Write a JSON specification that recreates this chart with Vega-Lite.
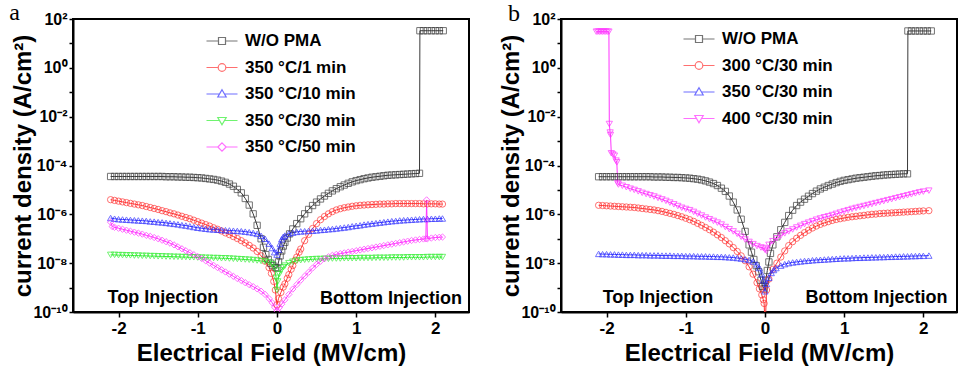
{
"$schema": "https://vega.github.io/schema/vega-lite/v6.json",
"background": "white",
"padding": {"left": 8, "top": -1, "right": 0, "bottom": 0},
"spacing": 27,
"config": {
  "font": "Liberation Sans",
  "view": {"stroke": "black", "strokeWidth": 2},
  "axis": {"grid": false, "domainColor": "black", "domainWidth": 2, "tickColor": "black", "tickWidth": 1.5,
    "labelFont": "Liberation Sans", "labelFontWeight": "bold", "labelColor": "black",
    "titleFont": "Liberation Sans", "titleFontWeight": "bold", "titleFontSize": 24, "titleColor": "black"}
},
"resolve": {"scale": {"x": "independent", "y": "independent", "color": "independent", "shape": "independent"}, "legend": {"color": "independent", "shape": "independent"}},
"datasets": {
"a": [
{"s":"W/O PMA","x":-2.10,"y":-4.45},{"s":"W/O PMA","x":-2.05,"y":-4.45},{"s":"W/O PMA","x":-2.00,"y":-4.45},{"s":"W/O PMA","x":-1.95,"y":-4.45},{"s":"W/O PMA","x":-1.90,"y":-4.45},{"s":"W/O PMA","x":-1.85,"y":-4.45},{"s":"W/O PMA","x":-1.80,"y":-4.45},{"s":"W/O PMA","x":-1.75,"y":-4.45},{"s":"W/O PMA","x":-1.70,"y":-4.45},{"s":"W/O PMA","x":-1.65,"y":-4.45},{"s":"W/O PMA","x":-1.60,"y":-4.45},{"s":"W/O PMA","x":-1.55,"y":-4.45},{"s":"W/O PMA","x":-1.50,"y":-4.45},{"s":"W/O PMA","x":-1.45,"y":-4.45},{"s":"W/O PMA","x":-1.40,"y":-4.46},{"s":"W/O PMA","x":-1.35,"y":-4.46},{"s":"W/O PMA","x":-1.30,"y":-4.46},{"s":"W/O PMA","x":-1.25,"y":-4.47},{"s":"W/O PMA","x":-1.20,"y":-4.47},{"s":"W/O PMA","x":-1.15,"y":-4.48},{"s":"W/O PMA","x":-1.10,"y":-4.48},{"s":"W/O PMA","x":-1.05,"y":-4.49},{"s":"W/O PMA","x":-1.00,"y":-4.50},{"s":"W/O PMA","x":-0.95,"y":-4.51},{"s":"W/O PMA","x":-0.90,"y":-4.53},{"s":"W/O PMA","x":-0.85,"y":-4.55},{"s":"W/O PMA","x":-0.80,"y":-4.57},{"s":"W/O PMA","x":-0.75,"y":-4.60},{"s":"W/O PMA","x":-0.70,"y":-4.64},{"s":"W/O PMA","x":-0.65,"y":-4.69},{"s":"W/O PMA","x":-0.60,"y":-4.76},{"s":"W/O PMA","x":-0.55,"y":-4.85},{"s":"W/O PMA","x":-0.50,"y":-4.98},{"s":"W/O PMA","x":-0.45,"y":-5.12},{"s":"W/O PMA","x":-0.40,"y":-5.35},{"s":"W/O PMA","x":-0.35,"y":-5.62},{"s":"W/O PMA","x":-0.30,"y":-5.98},{"s":"W/O PMA","x":-0.25,"y":-6.45},{"s":"W/O PMA","x":-0.20,"y":-7.00},{"s":"W/O PMA","x":-0.17,"y":-7.35},{"s":"W/O PMA","x":-0.14,"y":-7.65},{"s":"W/O PMA","x":-0.11,"y":-7.85},{"s":"W/O PMA","x":-0.08,"y":-8.00},{"s":"W/O PMA","x":-0.05,"y":-8.10},{"s":"W/O PMA","x":-0.02,"y":-8.18},{"s":"W/O PMA","x":0.00,"y":-8.20},{"s":"W/O PMA","x":0.02,"y":-7.95},{"s":"W/O PMA","x":0.04,"y":-7.70},{"s":"W/O PMA","x":0.06,"y":-7.50},{"s":"W/O PMA","x":0.08,"y":-7.30},{"s":"W/O PMA","x":0.10,"y":-7.15},{"s":"W/O PMA","x":0.13,"y":-6.97},{"s":"W/O PMA","x":0.16,"y":-6.80},{"s":"W/O PMA","x":0.20,"y":-6.60},{"s":"W/O PMA","x":0.25,"y":-6.38},{"s":"W/O PMA","x":0.30,"y":-6.18},{"s":"W/O PMA","x":0.35,"y":-5.98},{"s":"W/O PMA","x":0.40,"y":-5.80},{"s":"W/O PMA","x":0.45,"y":-5.64},{"s":"W/O PMA","x":0.50,"y":-5.50},{"s":"W/O PMA","x":0.55,"y":-5.37},{"s":"W/O PMA","x":0.60,"y":-5.25},{"s":"W/O PMA","x":0.65,"y":-5.14},{"s":"W/O PMA","x":0.70,"y":-5.04},{"s":"W/O PMA","x":0.75,"y":-4.95},{"s":"W/O PMA","x":0.80,"y":-4.87},{"s":"W/O PMA","x":0.85,"y":-4.80},{"s":"W/O PMA","x":0.90,"y":-4.73},{"s":"W/O PMA","x":0.95,"y":-4.67},{"s":"W/O PMA","x":1.00,"y":-4.62},{"s":"W/O PMA","x":1.05,"y":-4.58},{"s":"W/O PMA","x":1.10,"y":-4.54},{"s":"W/O PMA","x":1.15,"y":-4.51},{"s":"W/O PMA","x":1.20,"y":-4.48},{"s":"W/O PMA","x":1.25,"y":-4.46},{"s":"W/O PMA","x":1.30,"y":-4.44},{"s":"W/O PMA","x":1.35,"y":-4.42},{"s":"W/O PMA","x":1.40,"y":-4.40},{"s":"W/O PMA","x":1.45,"y":-4.39},{"s":"W/O PMA","x":1.50,"y":-4.38},{"s":"W/O PMA","x":1.55,"y":-4.37},{"s":"W/O PMA","x":1.60,"y":-4.36},{"s":"W/O PMA","x":1.65,"y":-4.35},{"s":"W/O PMA","x":1.70,"y":-4.34},{"s":"W/O PMA","x":1.75,"y":-4.33},{"s":"W/O PMA","x":1.80,"y":-4.32},{"s":"W/O PMA","x":1.805,"y":1.52},{"s":"W/O PMA","x":1.85,"y":1.52},{"s":"W/O PMA","x":1.90,"y":1.52},{"s":"W/O PMA","x":1.95,"y":1.52},{"s":"W/O PMA","x":2.00,"y":1.52},{"s":"W/O PMA","x":2.05,"y":1.52},{"s":"W/O PMA","x":2.10,"y":1.52},
{"s":"350 °C/1 min","x":-2.10,"y":-5.40},{"s":"350 °C/1 min","x":-2.05,"y":-5.43},{"s":"350 °C/1 min","x":-2.00,"y":-5.46},{"s":"350 °C/1 min","x":-1.95,"y":-5.49},{"s":"350 °C/1 min","x":-1.90,"y":-5.52},{"s":"350 °C/1 min","x":-1.85,"y":-5.55},{"s":"350 °C/1 min","x":-1.80,"y":-5.58},{"s":"350 °C/1 min","x":-1.75,"y":-5.61},{"s":"350 °C/1 min","x":-1.70,"y":-5.64},{"s":"350 °C/1 min","x":-1.65,"y":-5.68},{"s":"350 °C/1 min","x":-1.60,"y":-5.72},{"s":"350 °C/1 min","x":-1.55,"y":-5.76},{"s":"350 °C/1 min","x":-1.50,"y":-5.80},{"s":"350 °C/1 min","x":-1.45,"y":-5.85},{"s":"350 °C/1 min","x":-1.40,"y":-5.89},{"s":"350 °C/1 min","x":-1.35,"y":-5.94},{"s":"350 °C/1 min","x":-1.30,"y":-5.98},{"s":"350 °C/1 min","x":-1.25,"y":-6.03},{"s":"350 °C/1 min","x":-1.20,"y":-6.08},{"s":"350 °C/1 min","x":-1.15,"y":-6.13},{"s":"350 °C/1 min","x":-1.10,"y":-6.18},{"s":"350 °C/1 min","x":-1.05,"y":-6.24},{"s":"350 °C/1 min","x":-1.00,"y":-6.30},{"s":"350 °C/1 min","x":-0.95,"y":-6.36},{"s":"350 °C/1 min","x":-0.90,"y":-6.42},{"s":"350 °C/1 min","x":-0.85,"y":-6.48},{"s":"350 °C/1 min","x":-0.80,"y":-6.55},{"s":"350 °C/1 min","x":-0.75,"y":-6.61},{"s":"350 °C/1 min","x":-0.70,"y":-6.68},{"s":"350 °C/1 min","x":-0.65,"y":-6.76},{"s":"350 °C/1 min","x":-0.60,"y":-6.83},{"s":"350 °C/1 min","x":-0.55,"y":-6.91},{"s":"350 °C/1 min","x":-0.50,"y":-6.99},{"s":"350 °C/1 min","x":-0.45,"y":-7.08},{"s":"350 °C/1 min","x":-0.40,"y":-7.17},{"s":"350 °C/1 min","x":-0.35,"y":-7.27},{"s":"350 °C/1 min","x":-0.30,"y":-7.38},{"s":"350 °C/1 min","x":-0.25,"y":-7.52},{"s":"350 °C/1 min","x":-0.20,"y":-7.70},{"s":"350 °C/1 min","x":-0.15,"y":-7.92},{"s":"350 °C/1 min","x":-0.10,"y":-8.18},{"s":"350 °C/1 min","x":-0.07,"y":-8.42},{"s":"350 °C/1 min","x":-0.04,"y":-8.75},{"s":"350 °C/1 min","x":-0.02,"y":-9.10},{"s":"350 °C/1 min","x":0.00,"y":-9.70},{"s":"350 °C/1 min","x":0.02,"y":-9.45},{"s":"350 °C/1 min","x":0.05,"y":-9.20},{"s":"350 °C/1 min","x":0.08,"y":-8.98},{"s":"350 °C/1 min","x":0.10,"y":-8.85},{"s":"350 °C/1 min","x":0.13,"y":-8.62},{"s":"350 °C/1 min","x":0.15,"y":-8.47},{"s":"350 °C/1 min","x":0.18,"y":-8.25},{"s":"350 °C/1 min","x":0.20,"y":-8.10},{"s":"350 °C/1 min","x":0.23,"y":-7.88},{"s":"350 °C/1 min","x":0.25,"y":-7.75},{"s":"350 °C/1 min","x":0.28,"y":-7.55},{"s":"350 °C/1 min","x":0.30,"y":-7.42},{"s":"350 °C/1 min","x":0.35,"y":-7.08},{"s":"350 °C/1 min","x":0.40,"y":-6.82},{"s":"350 °C/1 min","x":0.45,"y":-6.58},{"s":"350 °C/1 min","x":0.50,"y":-6.38},{"s":"350 °C/1 min","x":0.55,"y":-6.22},{"s":"350 °C/1 min","x":0.60,"y":-6.09},{"s":"350 °C/1 min","x":0.65,"y":-5.98},{"s":"350 °C/1 min","x":0.70,"y":-5.89},{"s":"350 °C/1 min","x":0.75,"y":-5.82},{"s":"350 °C/1 min","x":0.80,"y":-5.77},{"s":"350 °C/1 min","x":0.85,"y":-5.73},{"s":"350 °C/1 min","x":0.90,"y":-5.70},{"s":"350 °C/1 min","x":0.95,"y":-5.67},{"s":"350 °C/1 min","x":1.00,"y":-5.65},{"s":"350 °C/1 min","x":1.05,"y":-5.63},{"s":"350 °C/1 min","x":1.10,"y":-5.62},{"s":"350 °C/1 min","x":1.15,"y":-5.61},{"s":"350 °C/1 min","x":1.20,"y":-5.60},{"s":"350 °C/1 min","x":1.25,"y":-5.59},{"s":"350 °C/1 min","x":1.30,"y":-5.58},{"s":"350 °C/1 min","x":1.35,"y":-5.58},{"s":"350 °C/1 min","x":1.40,"y":-5.57},{"s":"350 °C/1 min","x":1.45,"y":-5.57},{"s":"350 °C/1 min","x":1.50,"y":-5.56},{"s":"350 °C/1 min","x":1.55,"y":-5.56},{"s":"350 °C/1 min","x":1.60,"y":-5.56},{"s":"350 °C/1 min","x":1.65,"y":-5.56},{"s":"350 °C/1 min","x":1.70,"y":-5.56},{"s":"350 °C/1 min","x":1.75,"y":-5.56},{"s":"350 °C/1 min","x":1.80,"y":-5.56},{"s":"350 °C/1 min","x":1.85,"y":-5.57},{"s":"350 °C/1 min","x":1.90,"y":-5.57},{"s":"350 °C/1 min","x":1.95,"y":-5.57},{"s":"350 °C/1 min","x":2.00,"y":-5.57},{"s":"350 °C/1 min","x":2.05,"y":-5.58},{"s":"350 °C/1 min","x":2.09,"y":-5.58},
{"s":"350 °C/10 min","x":-2.10,"y":-6.15},{"s":"350 °C/10 min","x":-2.05,"y":-6.18},{"s":"350 °C/10 min","x":-2.00,"y":-6.20},{"s":"350 °C/10 min","x":-1.95,"y":-6.21},{"s":"350 °C/10 min","x":-1.90,"y":-6.22},{"s":"350 °C/10 min","x":-1.85,"y":-6.23},{"s":"350 °C/10 min","x":-1.80,"y":-6.24},{"s":"350 °C/10 min","x":-1.75,"y":-6.25},{"s":"350 °C/10 min","x":-1.70,"y":-6.26},{"s":"350 °C/10 min","x":-1.65,"y":-6.27},{"s":"350 °C/10 min","x":-1.60,"y":-6.29},{"s":"350 °C/10 min","x":-1.55,"y":-6.30},{"s":"350 °C/10 min","x":-1.50,"y":-6.32},{"s":"350 °C/10 min","x":-1.45,"y":-6.33},{"s":"350 °C/10 min","x":-1.40,"y":-6.35},{"s":"350 °C/10 min","x":-1.35,"y":-6.37},{"s":"350 °C/10 min","x":-1.30,"y":-6.39},{"s":"350 °C/10 min","x":-1.25,"y":-6.41},{"s":"350 °C/10 min","x":-1.20,"y":-6.44},{"s":"350 °C/10 min","x":-1.15,"y":-6.46},{"s":"350 °C/10 min","x":-1.10,"y":-6.49},{"s":"350 °C/10 min","x":-1.05,"y":-6.52},{"s":"350 °C/10 min","x":-1.00,"y":-6.55},{"s":"350 °C/10 min","x":-0.95,"y":-6.57},{"s":"350 °C/10 min","x":-0.90,"y":-6.59},{"s":"350 °C/10 min","x":-0.85,"y":-6.61},{"s":"350 °C/10 min","x":-0.80,"y":-6.62},{"s":"350 °C/10 min","x":-0.75,"y":-6.63},{"s":"350 °C/10 min","x":-0.70,"y":-6.64},{"s":"350 °C/10 min","x":-0.65,"y":-6.65},{"s":"350 °C/10 min","x":-0.60,"y":-6.66},{"s":"350 °C/10 min","x":-0.55,"y":-6.67},{"s":"350 °C/10 min","x":-0.50,"y":-6.68},{"s":"350 °C/10 min","x":-0.45,"y":-6.69},{"s":"350 °C/10 min","x":-0.40,"y":-6.71},{"s":"350 °C/10 min","x":-0.35,"y":-6.73},{"s":"350 °C/10 min","x":-0.30,"y":-6.76},{"s":"350 °C/10 min","x":-0.25,"y":-6.80},{"s":"350 °C/10 min","x":-0.20,"y":-6.88},{"s":"350 °C/10 min","x":-0.15,"y":-7.00},{"s":"350 °C/10 min","x":-0.10,"y":-7.20},{"s":"350 °C/10 min","x":-0.06,"y":-7.38},{"s":"350 °C/10 min","x":-0.03,"y":-7.55},{"s":"350 °C/10 min","x":0.00,"y":-7.65},{"s":"350 °C/10 min","x":0.02,"y":-7.45},{"s":"350 °C/10 min","x":0.04,"y":-7.20},{"s":"350 °C/10 min","x":0.06,"y":-7.02},{"s":"350 °C/10 min","x":0.08,"y":-6.92},{"s":"350 °C/10 min","x":0.10,"y":-6.87},{"s":"350 °C/10 min","x":0.15,"y":-6.79},{"s":"350 °C/10 min","x":0.20,"y":-6.75},{"s":"350 °C/10 min","x":0.25,"y":-6.72},{"s":"350 °C/10 min","x":0.30,"y":-6.70},{"s":"350 °C/10 min","x":0.35,"y":-6.69},{"s":"350 °C/10 min","x":0.40,"y":-6.68},{"s":"350 °C/10 min","x":0.45,"y":-6.67},{"s":"350 °C/10 min","x":0.50,"y":-6.66},{"s":"350 °C/10 min","x":0.55,"y":-6.64},{"s":"350 °C/10 min","x":0.60,"y":-6.63},{"s":"350 °C/10 min","x":0.65,"y":-6.61},{"s":"350 °C/10 min","x":0.70,"y":-6.60},{"s":"350 °C/10 min","x":0.75,"y":-6.58},{"s":"350 °C/10 min","x":0.80,"y":-6.56},{"s":"350 °C/10 min","x":0.85,"y":-6.54},{"s":"350 °C/10 min","x":0.90,"y":-6.52},{"s":"350 °C/10 min","x":0.95,"y":-6.49},{"s":"350 °C/10 min","x":1.00,"y":-6.47},{"s":"350 °C/10 min","x":1.05,"y":-6.45},{"s":"350 °C/10 min","x":1.10,"y":-6.42},{"s":"350 °C/10 min","x":1.15,"y":-6.40},{"s":"350 °C/10 min","x":1.20,"y":-6.38},{"s":"350 °C/10 min","x":1.25,"y":-6.36},{"s":"350 °C/10 min","x":1.30,"y":-6.34},{"s":"350 °C/10 min","x":1.35,"y":-6.32},{"s":"350 °C/10 min","x":1.40,"y":-6.30},{"s":"350 °C/10 min","x":1.45,"y":-6.28},{"s":"350 °C/10 min","x":1.50,"y":-6.27},{"s":"350 °C/10 min","x":1.55,"y":-6.25},{"s":"350 °C/10 min","x":1.60,"y":-6.24},{"s":"350 °C/10 min","x":1.65,"y":-6.23},{"s":"350 °C/10 min","x":1.70,"y":-6.22},{"s":"350 °C/10 min","x":1.75,"y":-6.21},{"s":"350 °C/10 min","x":1.80,"y":-6.20},{"s":"350 °C/10 min","x":1.85,"y":-6.19},{"s":"350 °C/10 min","x":1.90,"y":-6.19},{"s":"350 °C/10 min","x":1.95,"y":-6.18},{"s":"350 °C/10 min","x":2.00,"y":-6.18},{"s":"350 °C/10 min","x":2.05,"y":-6.17},{"s":"350 °C/10 min","x":2.09,"y":-6.17},
{"s":"350 °C/30 min","x":-2.10,"y":-7.66},{"s":"350 °C/30 min","x":-2.05,"y":-7.66},{"s":"350 °C/30 min","x":-2.00,"y":-7.67},{"s":"350 °C/30 min","x":-1.95,"y":-7.67},{"s":"350 °C/30 min","x":-1.90,"y":-7.68},{"s":"350 °C/30 min","x":-1.85,"y":-7.68},{"s":"350 °C/30 min","x":-1.80,"y":-7.69},{"s":"350 °C/30 min","x":-1.75,"y":-7.69},{"s":"350 °C/30 min","x":-1.70,"y":-7.70},{"s":"350 °C/30 min","x":-1.65,"y":-7.70},{"s":"350 °C/30 min","x":-1.60,"y":-7.71},{"s":"350 °C/30 min","x":-1.55,"y":-7.71},{"s":"350 °C/30 min","x":-1.50,"y":-7.72},{"s":"350 °C/30 min","x":-1.45,"y":-7.72},{"s":"350 °C/30 min","x":-1.40,"y":-7.73},{"s":"350 °C/30 min","x":-1.35,"y":-7.73},{"s":"350 °C/30 min","x":-1.30,"y":-7.74},{"s":"350 °C/30 min","x":-1.25,"y":-7.74},{"s":"350 °C/30 min","x":-1.20,"y":-7.75},{"s":"350 °C/30 min","x":-1.15,"y":-7.75},{"s":"350 °C/30 min","x":-1.10,"y":-7.76},{"s":"350 °C/30 min","x":-1.05,"y":-7.76},{"s":"350 °C/30 min","x":-1.00,"y":-7.77},{"s":"350 °C/30 min","x":-0.95,"y":-7.77},{"s":"350 °C/30 min","x":-0.90,"y":-7.78},{"s":"350 °C/30 min","x":-0.85,"y":-7.78},{"s":"350 °C/30 min","x":-0.80,"y":-7.79},{"s":"350 °C/30 min","x":-0.75,"y":-7.79},{"s":"350 °C/30 min","x":-0.70,"y":-7.80},{"s":"350 °C/30 min","x":-0.65,"y":-7.80},{"s":"350 °C/30 min","x":-0.60,"y":-7.81},{"s":"350 °C/30 min","x":-0.55,"y":-7.82},{"s":"350 °C/30 min","x":-0.50,"y":-7.83},{"s":"350 °C/30 min","x":-0.45,"y":-7.84},{"s":"350 °C/30 min","x":-0.40,"y":-7.85},{"s":"350 °C/30 min","x":-0.35,"y":-7.86},{"s":"350 °C/30 min","x":-0.30,"y":-7.87},{"s":"350 °C/30 min","x":-0.25,"y":-7.89},{"s":"350 °C/30 min","x":-0.20,"y":-7.91},{"s":"350 °C/30 min","x":-0.15,"y":-7.93},{"s":"350 °C/30 min","x":-0.10,"y":-7.97},{"s":"350 °C/30 min","x":-0.06,"y":-8.05},{"s":"350 °C/30 min","x":-0.03,"y":-8.20},{"s":"350 °C/30 min","x":-0.01,"y":-8.60},{"s":"350 °C/30 min","x":0.00,"y":-9.10},{"s":"350 °C/30 min","x":0.01,"y":-8.75},{"s":"350 °C/30 min","x":0.03,"y":-8.45},{"s":"350 °C/30 min","x":0.05,"y":-8.30},{"s":"350 °C/30 min","x":0.08,"y":-8.17},{"s":"350 °C/30 min","x":0.10,"y":-8.10},{"s":"350 °C/30 min","x":0.15,"y":-8.00},{"s":"350 °C/30 min","x":0.20,"y":-7.94},{"s":"350 °C/30 min","x":0.25,"y":-7.90},{"s":"350 °C/30 min","x":0.30,"y":-7.88},{"s":"350 °C/30 min","x":0.35,"y":-7.86},{"s":"350 °C/30 min","x":0.40,"y":-7.85},{"s":"350 °C/30 min","x":0.45,"y":-7.84},{"s":"350 °C/30 min","x":0.50,"y":-7.83},{"s":"350 °C/30 min","x":0.55,"y":-7.83},{"s":"350 °C/30 min","x":0.60,"y":-7.82},{"s":"350 °C/30 min","x":0.65,"y":-7.82},{"s":"350 °C/30 min","x":0.70,"y":-7.81},{"s":"350 °C/30 min","x":0.75,"y":-7.81},{"s":"350 °C/30 min","x":0.80,"y":-7.81},{"s":"350 °C/30 min","x":0.85,"y":-7.80},{"s":"350 °C/30 min","x":0.90,"y":-7.80},{"s":"350 °C/30 min","x":0.95,"y":-7.80},{"s":"350 °C/30 min","x":1.00,"y":-7.80},{"s":"350 °C/30 min","x":1.05,"y":-7.79},{"s":"350 °C/30 min","x":1.10,"y":-7.79},{"s":"350 °C/30 min","x":1.15,"y":-7.79},{"s":"350 °C/30 min","x":1.20,"y":-7.79},{"s":"350 °C/30 min","x":1.25,"y":-7.78},{"s":"350 °C/30 min","x":1.30,"y":-7.78},{"s":"350 °C/30 min","x":1.35,"y":-7.78},{"s":"350 °C/30 min","x":1.40,"y":-7.78},{"s":"350 °C/30 min","x":1.45,"y":-7.77},{"s":"350 °C/30 min","x":1.50,"y":-7.77},{"s":"350 °C/30 min","x":1.55,"y":-7.77},{"s":"350 °C/30 min","x":1.60,"y":-7.77},{"s":"350 °C/30 min","x":1.65,"y":-7.76},{"s":"350 °C/30 min","x":1.70,"y":-7.76},{"s":"350 °C/30 min","x":1.75,"y":-7.76},{"s":"350 °C/30 min","x":1.80,"y":-7.76},{"s":"350 °C/30 min","x":1.85,"y":-7.76},{"s":"350 °C/30 min","x":1.90,"y":-7.75},{"s":"350 °C/30 min","x":1.95,"y":-7.75},{"s":"350 °C/30 min","x":2.00,"y":-7.75},{"s":"350 °C/30 min","x":2.05,"y":-7.75},{"s":"350 °C/30 min","x":2.09,"y":-7.75},
{"s":"350 °C/50 min","x":-2.10,"y":-6.32},{"s":"350 °C/50 min","x":-2.08,"y":-6.50},{"s":"350 °C/50 min","x":-2.05,"y":-6.53},{"s":"350 °C/50 min","x":-2.00,"y":-6.57},{"s":"350 °C/50 min","x":-1.95,"y":-6.61},{"s":"350 °C/50 min","x":-1.90,"y":-6.65},{"s":"350 °C/50 min","x":-1.85,"y":-6.69},{"s":"350 °C/50 min","x":-1.80,"y":-6.73},{"s":"350 °C/50 min","x":-1.75,"y":-6.77},{"s":"350 °C/50 min","x":-1.70,"y":-6.81},{"s":"350 °C/50 min","x":-1.65,"y":-6.86},{"s":"350 °C/50 min","x":-1.60,"y":-6.90},{"s":"350 °C/50 min","x":-1.55,"y":-6.95},{"s":"350 °C/50 min","x":-1.50,"y":-7.00},{"s":"350 °C/50 min","x":-1.45,"y":-7.06},{"s":"350 °C/50 min","x":-1.40,"y":-7.12},{"s":"350 °C/50 min","x":-1.35,"y":-7.18},{"s":"350 °C/50 min","x":-1.30,"y":-7.25},{"s":"350 °C/50 min","x":-1.25,"y":-7.33},{"s":"350 °C/50 min","x":-1.20,"y":-7.41},{"s":"350 °C/50 min","x":-1.15,"y":-7.49},{"s":"350 °C/50 min","x":-1.10,"y":-7.57},{"s":"350 °C/50 min","x":-1.05,"y":-7.65},{"s":"350 °C/50 min","x":-1.00,"y":-7.73},{"s":"350 °C/50 min","x":-0.95,"y":-7.81},{"s":"350 °C/50 min","x":-0.90,"y":-7.90},{"s":"350 °C/50 min","x":-0.85,"y":-8.00},{"s":"350 °C/50 min","x":-0.80,"y":-8.09},{"s":"350 °C/50 min","x":-0.75,"y":-8.18},{"s":"350 °C/50 min","x":-0.70,"y":-8.27},{"s":"350 °C/50 min","x":-0.65,"y":-8.36},{"s":"350 °C/50 min","x":-0.60,"y":-8.45},{"s":"350 °C/50 min","x":-0.55,"y":-8.54},{"s":"350 °C/50 min","x":-0.50,"y":-8.63},{"s":"350 °C/50 min","x":-0.45,"y":-8.71},{"s":"350 °C/50 min","x":-0.40,"y":-8.80},{"s":"350 °C/50 min","x":-0.35,"y":-8.88},{"s":"350 °C/50 min","x":-0.30,"y":-8.96},{"s":"350 °C/50 min","x":-0.25,"y":-9.05},{"s":"350 °C/50 min","x":-0.20,"y":-9.15},{"s":"350 °C/50 min","x":-0.15,"y":-9.28},{"s":"350 °C/50 min","x":-0.10,"y":-9.45},{"s":"350 °C/50 min","x":-0.06,"y":-9.62},{"s":"350 °C/50 min","x":-0.03,"y":-9.80},{"s":"350 °C/50 min","x":0.00,"y":-9.95},{"s":"350 °C/50 min","x":0.03,"y":-9.82},{"s":"350 °C/50 min","x":0.06,"y":-9.68},{"s":"350 °C/50 min","x":0.10,"y":-9.50},{"s":"350 °C/50 min","x":0.15,"y":-9.28},{"s":"350 °C/50 min","x":0.20,"y":-9.06},{"s":"350 °C/50 min","x":0.25,"y":-8.88},{"s":"350 °C/50 min","x":0.30,"y":-8.70},{"s":"350 °C/50 min","x":0.35,"y":-8.53},{"s":"350 °C/50 min","x":0.40,"y":-8.37},{"s":"350 °C/50 min","x":0.45,"y":-8.20},{"s":"350 °C/50 min","x":0.50,"y":-8.05},{"s":"350 °C/50 min","x":0.55,"y":-7.92},{"s":"350 °C/50 min","x":0.60,"y":-7.82},{"s":"350 °C/50 min","x":0.65,"y":-7.74},{"s":"350 °C/50 min","x":0.70,"y":-7.68},{"s":"350 °C/50 min","x":0.75,"y":-7.64},{"s":"350 °C/50 min","x":0.80,"y":-7.61},{"s":"350 °C/50 min","x":0.85,"y":-7.58},{"s":"350 °C/50 min","x":0.90,"y":-7.55},{"s":"350 °C/50 min","x":0.95,"y":-7.52},{"s":"350 °C/50 min","x":1.00,"y":-7.49},{"s":"350 °C/50 min","x":1.05,"y":-7.46},{"s":"350 °C/50 min","x":1.10,"y":-7.43},{"s":"350 °C/50 min","x":1.15,"y":-7.40},{"s":"350 °C/50 min","x":1.20,"y":-7.37},{"s":"350 °C/50 min","x":1.25,"y":-7.34},{"s":"350 °C/50 min","x":1.30,"y":-7.31},{"s":"350 °C/50 min","x":1.35,"y":-7.28},{"s":"350 °C/50 min","x":1.40,"y":-7.25},{"s":"350 °C/50 min","x":1.45,"y":-7.22},{"s":"350 °C/50 min","x":1.50,"y":-7.19},{"s":"350 °C/50 min","x":1.55,"y":-7.16},{"s":"350 °C/50 min","x":1.60,"y":-7.13},{"s":"350 °C/50 min","x":1.65,"y":-7.10},{"s":"350 °C/50 min","x":1.70,"y":-7.07},{"s":"350 °C/50 min","x":1.75,"y":-7.05},{"s":"350 °C/50 min","x":1.80,"y":-7.03},{"s":"350 °C/50 min","x":1.85,"y":-7.01},{"s":"350 °C/50 min","x":1.88,"y":-7.00},{"s":"350 °C/50 min","x":1.89,"y":-5.41},{"s":"350 °C/50 min","x":1.895,"y":-6.23},{"s":"350 °C/50 min","x":1.90,"y":-7.00},{"s":"350 °C/50 min","x":1.95,"y":-6.97},{"s":"350 °C/50 min","x":2.00,"y":-6.95},{"s":"350 °C/50 min","x":2.05,"y":-6.94},{"s":"350 °C/50 min","x":2.09,"y":-6.93}
],
"b": [
{"s":"W/O PMA","x":-2.10,"y":-4.46},{"s":"W/O PMA","x":-2.05,"y":-4.46},{"s":"W/O PMA","x":-2.00,"y":-4.46},{"s":"W/O PMA","x":-1.95,"y":-4.46},{"s":"W/O PMA","x":-1.90,"y":-4.46},{"s":"W/O PMA","x":-1.85,"y":-4.46},{"s":"W/O PMA","x":-1.80,"y":-4.46},{"s":"W/O PMA","x":-1.75,"y":-4.46},{"s":"W/O PMA","x":-1.70,"y":-4.46},{"s":"W/O PMA","x":-1.65,"y":-4.46},{"s":"W/O PMA","x":-1.60,"y":-4.46},{"s":"W/O PMA","x":-1.55,"y":-4.46},{"s":"W/O PMA","x":-1.50,"y":-4.46},{"s":"W/O PMA","x":-1.45,"y":-4.46},{"s":"W/O PMA","x":-1.40,"y":-4.47},{"s":"W/O PMA","x":-1.35,"y":-4.47},{"s":"W/O PMA","x":-1.30,"y":-4.47},{"s":"W/O PMA","x":-1.25,"y":-4.48},{"s":"W/O PMA","x":-1.20,"y":-4.48},{"s":"W/O PMA","x":-1.15,"y":-4.49},{"s":"W/O PMA","x":-1.10,"y":-4.49},{"s":"W/O PMA","x":-1.05,"y":-4.50},{"s":"W/O PMA","x":-1.00,"y":-4.51},{"s":"W/O PMA","x":-0.95,"y":-4.52},{"s":"W/O PMA","x":-0.90,"y":-4.54},{"s":"W/O PMA","x":-0.85,"y":-4.56},{"s":"W/O PMA","x":-0.80,"y":-4.59},{"s":"W/O PMA","x":-0.75,"y":-4.63},{"s":"W/O PMA","x":-0.70,"y":-4.68},{"s":"W/O PMA","x":-0.65,"y":-4.74},{"s":"W/O PMA","x":-0.60,"y":-4.82},{"s":"W/O PMA","x":-0.55,"y":-4.93},{"s":"W/O PMA","x":-0.50,"y":-5.06},{"s":"W/O PMA","x":-0.45,"y":-5.25},{"s":"W/O PMA","x":-0.40,"y":-5.50},{"s":"W/O PMA","x":-0.35,"y":-5.82},{"s":"W/O PMA","x":-0.30,"y":-6.20},{"s":"W/O PMA","x":-0.25,"y":-6.70},{"s":"W/O PMA","x":-0.20,"y":-7.25},{"s":"W/O PMA","x":-0.17,"y":-7.55},{"s":"W/O PMA","x":-0.14,"y":-7.85},{"s":"W/O PMA","x":-0.11,"y":-8.10},{"s":"W/O PMA","x":-0.08,"y":-8.35},{"s":"W/O PMA","x":-0.05,"y":-8.70},{"s":"W/O PMA","x":-0.03,"y":-8.95},{"s":"W/O PMA","x":-0.01,"y":-9.05},{"s":"W/O PMA","x":0.01,"y":-8.70},{"s":"W/O PMA","x":0.03,"y":-8.30},{"s":"W/O PMA","x":0.05,"y":-7.95},{"s":"W/O PMA","x":0.07,"y":-7.60},{"s":"W/O PMA","x":0.10,"y":-7.25},{"s":"W/O PMA","x":0.15,"y":-6.92},{"s":"W/O PMA","x":0.20,"y":-6.63},{"s":"W/O PMA","x":0.25,"y":-6.33},{"s":"W/O PMA","x":0.30,"y":-6.05},{"s":"W/O PMA","x":0.35,"y":-5.83},{"s":"W/O PMA","x":0.40,"y":-5.64},{"s":"W/O PMA","x":0.45,"y":-5.50},{"s":"W/O PMA","x":0.50,"y":-5.38},{"s":"W/O PMA","x":0.55,"y":-5.26},{"s":"W/O PMA","x":0.60,"y":-5.15},{"s":"W/O PMA","x":0.65,"y":-5.05},{"s":"W/O PMA","x":0.70,"y":-4.96},{"s":"W/O PMA","x":0.75,"y":-4.89},{"s":"W/O PMA","x":0.80,"y":-4.82},{"s":"W/O PMA","x":0.85,"y":-4.76},{"s":"W/O PMA","x":0.90,"y":-4.70},{"s":"W/O PMA","x":0.95,"y":-4.65},{"s":"W/O PMA","x":1.00,"y":-4.61},{"s":"W/O PMA","x":1.05,"y":-4.58},{"s":"W/O PMA","x":1.10,"y":-4.55},{"s":"W/O PMA","x":1.15,"y":-4.52},{"s":"W/O PMA","x":1.20,"y":-4.50},{"s":"W/O PMA","x":1.25,"y":-4.48},{"s":"W/O PMA","x":1.30,"y":-4.46},{"s":"W/O PMA","x":1.35,"y":-4.44},{"s":"W/O PMA","x":1.40,"y":-4.42},{"s":"W/O PMA","x":1.45,"y":-4.41},{"s":"W/O PMA","x":1.50,"y":-4.39},{"s":"W/O PMA","x":1.55,"y":-4.38},{"s":"W/O PMA","x":1.60,"y":-4.37},{"s":"W/O PMA","x":1.65,"y":-4.36},{"s":"W/O PMA","x":1.70,"y":-4.35},{"s":"W/O PMA","x":1.75,"y":-4.34},{"s":"W/O PMA","x":1.80,"y":-4.34},{"s":"W/O PMA","x":1.805,"y":1.51},{"s":"W/O PMA","x":1.85,"y":1.51},{"s":"W/O PMA","x":1.90,"y":1.51},{"s":"W/O PMA","x":1.95,"y":1.51},{"s":"W/O PMA","x":2.00,"y":1.51},{"s":"W/O PMA","x":2.05,"y":1.51},{"s":"W/O PMA","x":2.10,"y":1.51},
{"s":"300 °C/30 min","x":-2.10,"y":-5.63},{"s":"300 °C/30 min","x":-2.05,"y":-5.64},{"s":"300 °C/30 min","x":-2.00,"y":-5.65},{"s":"300 °C/30 min","x":-1.95,"y":-5.66},{"s":"300 °C/30 min","x":-1.90,"y":-5.67},{"s":"300 °C/30 min","x":-1.85,"y":-5.68},{"s":"300 °C/30 min","x":-1.80,"y":-5.69},{"s":"300 °C/30 min","x":-1.75,"y":-5.70},{"s":"300 °C/30 min","x":-1.70,"y":-5.71},{"s":"300 °C/30 min","x":-1.65,"y":-5.72},{"s":"300 °C/30 min","x":-1.60,"y":-5.74},{"s":"300 °C/30 min","x":-1.55,"y":-5.76},{"s":"300 °C/30 min","x":-1.50,"y":-5.78},{"s":"300 °C/30 min","x":-1.45,"y":-5.80},{"s":"300 °C/30 min","x":-1.40,"y":-5.82},{"s":"300 °C/30 min","x":-1.35,"y":-5.85},{"s":"300 °C/30 min","x":-1.30,"y":-5.88},{"s":"300 °C/30 min","x":-1.25,"y":-5.92},{"s":"300 °C/30 min","x":-1.20,"y":-5.96},{"s":"300 °C/30 min","x":-1.15,"y":-6.00},{"s":"300 °C/30 min","x":-1.10,"y":-6.05},{"s":"300 °C/30 min","x":-1.05,"y":-6.10},{"s":"300 °C/30 min","x":-1.00,"y":-6.16},{"s":"300 °C/30 min","x":-0.95,"y":-6.22},{"s":"300 °C/30 min","x":-0.90,"y":-6.29},{"s":"300 °C/30 min","x":-0.85,"y":-6.37},{"s":"300 °C/30 min","x":-0.80,"y":-6.45},{"s":"300 °C/30 min","x":-0.75,"y":-6.54},{"s":"300 °C/30 min","x":-0.70,"y":-6.63},{"s":"300 °C/30 min","x":-0.65,"y":-6.73},{"s":"300 °C/30 min","x":-0.60,"y":-6.84},{"s":"300 °C/30 min","x":-0.55,"y":-6.95},{"s":"300 °C/30 min","x":-0.50,"y":-7.08},{"s":"300 °C/30 min","x":-0.45,"y":-7.21},{"s":"300 °C/30 min","x":-0.40,"y":-7.36},{"s":"300 °C/30 min","x":-0.35,"y":-7.52},{"s":"300 °C/30 min","x":-0.30,"y":-7.70},{"s":"300 °C/30 min","x":-0.25,"y":-7.90},{"s":"300 °C/30 min","x":-0.20,"y":-8.15},{"s":"300 °C/30 min","x":-0.15,"y":-8.45},{"s":"300 °C/30 min","x":-0.10,"y":-8.80},{"s":"300 °C/30 min","x":-0.07,"y":-9.05},{"s":"300 °C/30 min","x":-0.04,"y":-9.30},{"s":"300 °C/30 min","x":-0.02,"y":-9.50},{"s":"300 °C/30 min","x":-0.01,"y":-9.65},{"s":"300 °C/30 min","x":0.00,"y":-10.5},{"s":"300 °C/30 min","x":0.005,"y":-10.5},{"s":"300 °C/30 min","x":0.02,"y":-9.10},{"s":"300 °C/30 min","x":0.05,"y":-8.65},{"s":"300 °C/30 min","x":0.10,"y":-8.25},{"s":"300 °C/30 min","x":0.15,"y":-8.00},{"s":"300 °C/30 min","x":0.20,"y":-7.75},{"s":"300 °C/30 min","x":0.25,"y":-7.50},{"s":"300 °C/30 min","x":0.30,"y":-7.28},{"s":"300 °C/30 min","x":0.35,"y":-7.12},{"s":"300 °C/30 min","x":0.40,"y":-6.98},{"s":"300 °C/30 min","x":0.45,"y":-6.86},{"s":"300 °C/30 min","x":0.50,"y":-6.75},{"s":"300 °C/30 min","x":0.55,"y":-6.65},{"s":"300 °C/30 min","x":0.60,"y":-6.56},{"s":"300 °C/30 min","x":0.65,"y":-6.48},{"s":"300 °C/30 min","x":0.70,"y":-6.41},{"s":"300 °C/30 min","x":0.75,"y":-6.35},{"s":"300 °C/30 min","x":0.80,"y":-6.30},{"s":"300 °C/30 min","x":0.85,"y":-6.25},{"s":"300 °C/30 min","x":0.90,"y":-6.21},{"s":"300 °C/30 min","x":0.95,"y":-6.18},{"s":"300 °C/30 min","x":1.00,"y":-6.15},{"s":"300 °C/30 min","x":1.05,"y":-6.12},{"s":"300 °C/30 min","x":1.10,"y":-6.10},{"s":"300 °C/30 min","x":1.15,"y":-6.08},{"s":"300 °C/30 min","x":1.20,"y":-6.06},{"s":"300 °C/30 min","x":1.25,"y":-6.04},{"s":"300 °C/30 min","x":1.30,"y":-6.02},{"s":"300 °C/30 min","x":1.35,"y":-6.00},{"s":"300 °C/30 min","x":1.40,"y":-5.99},{"s":"300 °C/30 min","x":1.45,"y":-5.97},{"s":"300 °C/30 min","x":1.50,"y":-5.96},{"s":"300 °C/30 min","x":1.55,"y":-5.95},{"s":"300 °C/30 min","x":1.60,"y":-5.94},{"s":"300 °C/30 min","x":1.65,"y":-5.93},{"s":"300 °C/30 min","x":1.70,"y":-5.92},{"s":"300 °C/30 min","x":1.75,"y":-5.91},{"s":"300 °C/30 min","x":1.80,"y":-5.90},{"s":"300 °C/30 min","x":1.85,"y":-5.89},{"s":"300 °C/30 min","x":1.90,"y":-5.88},{"s":"300 °C/30 min","x":1.95,"y":-5.87},{"s":"300 °C/30 min","x":2.00,"y":-5.86},{"s":"300 °C/30 min","x":2.07,"y":-5.85},
{"s":"350 °C/30 min","x":-2.10,"y":-7.62},{"s":"350 °C/30 min","x":-2.05,"y":-7.63},{"s":"350 °C/30 min","x":-2.00,"y":-7.63},{"s":"350 °C/30 min","x":-1.95,"y":-7.64},{"s":"350 °C/30 min","x":-1.90,"y":-7.64},{"s":"350 °C/30 min","x":-1.85,"y":-7.65},{"s":"350 °C/30 min","x":-1.80,"y":-7.65},{"s":"350 °C/30 min","x":-1.75,"y":-7.66},{"s":"350 °C/30 min","x":-1.70,"y":-7.66},{"s":"350 °C/30 min","x":-1.65,"y":-7.66},{"s":"350 °C/30 min","x":-1.60,"y":-7.67},{"s":"350 °C/30 min","x":-1.55,"y":-7.67},{"s":"350 °C/30 min","x":-1.50,"y":-7.67},{"s":"350 °C/30 min","x":-1.45,"y":-7.68},{"s":"350 °C/30 min","x":-1.40,"y":-7.68},{"s":"350 °C/30 min","x":-1.35,"y":-7.68},{"s":"350 °C/30 min","x":-1.30,"y":-7.69},{"s":"350 °C/30 min","x":-1.25,"y":-7.69},{"s":"350 °C/30 min","x":-1.20,"y":-7.69},{"s":"350 °C/30 min","x":-1.15,"y":-7.70},{"s":"350 °C/30 min","x":-1.10,"y":-7.70},{"s":"350 °C/30 min","x":-1.05,"y":-7.70},{"s":"350 °C/30 min","x":-1.00,"y":-7.71},{"s":"350 °C/30 min","x":-0.95,"y":-7.71},{"s":"350 °C/30 min","x":-0.90,"y":-7.71},{"s":"350 °C/30 min","x":-0.85,"y":-7.72},{"s":"350 °C/30 min","x":-0.80,"y":-7.72},{"s":"350 °C/30 min","x":-0.75,"y":-7.72},{"s":"350 °C/30 min","x":-0.70,"y":-7.73},{"s":"350 °C/30 min","x":-0.65,"y":-7.73},{"s":"350 °C/30 min","x":-0.60,"y":-7.74},{"s":"350 °C/30 min","x":-0.55,"y":-7.74},{"s":"350 °C/30 min","x":-0.50,"y":-7.75},{"s":"350 °C/30 min","x":-0.45,"y":-7.76},{"s":"350 °C/30 min","x":-0.40,"y":-7.77},{"s":"350 °C/30 min","x":-0.35,"y":-7.79},{"s":"350 °C/30 min","x":-0.30,"y":-7.81},{"s":"350 °C/30 min","x":-0.25,"y":-7.84},{"s":"350 °C/30 min","x":-0.20,"y":-7.87},{"s":"350 °C/30 min","x":-0.15,"y":-7.93},{"s":"350 °C/30 min","x":-0.10,"y":-8.05},{"s":"350 °C/30 min","x":-0.07,"y":-8.20},{"s":"350 °C/30 min","x":-0.04,"y":-8.45},{"s":"350 °C/30 min","x":-0.02,"y":-8.70},{"s":"350 °C/30 min","x":0.00,"y":-9.15},{"s":"350 °C/30 min","x":0.02,"y":-8.85},{"s":"350 °C/30 min","x":0.05,"y":-8.60},{"s":"350 °C/30 min","x":0.08,"y":-8.40},{"s":"350 °C/30 min","x":0.11,"y":-8.28},{"s":"350 °C/30 min","x":0.14,"y":-8.20},{"s":"350 °C/30 min","x":0.20,"y":-8.10},{"s":"350 °C/30 min","x":0.25,"y":-8.04},{"s":"350 °C/30 min","x":0.30,"y":-8.00},{"s":"350 °C/30 min","x":0.35,"y":-7.97},{"s":"350 °C/30 min","x":0.40,"y":-7.95},{"s":"350 °C/30 min","x":0.45,"y":-7.93},{"s":"350 °C/30 min","x":0.50,"y":-7.91},{"s":"350 °C/30 min","x":0.55,"y":-7.90},{"s":"350 °C/30 min","x":0.60,"y":-7.88},{"s":"350 °C/30 min","x":0.65,"y":-7.87},{"s":"350 °C/30 min","x":0.70,"y":-7.86},{"s":"350 °C/30 min","x":0.75,"y":-7.85},{"s":"350 °C/30 min","x":0.80,"y":-7.84},{"s":"350 °C/30 min","x":0.85,"y":-7.83},{"s":"350 °C/30 min","x":0.90,"y":-7.82},{"s":"350 °C/30 min","x":0.95,"y":-7.81},{"s":"350 °C/30 min","x":1.00,"y":-7.80},{"s":"350 °C/30 min","x":1.05,"y":-7.80},{"s":"350 °C/30 min","x":1.10,"y":-7.79},{"s":"350 °C/30 min","x":1.15,"y":-7.78},{"s":"350 °C/30 min","x":1.20,"y":-7.78},{"s":"350 °C/30 min","x":1.25,"y":-7.77},{"s":"350 °C/30 min","x":1.30,"y":-7.77},{"s":"350 °C/30 min","x":1.35,"y":-7.76},{"s":"350 °C/30 min","x":1.40,"y":-7.76},{"s":"350 °C/30 min","x":1.45,"y":-7.75},{"s":"350 °C/30 min","x":1.50,"y":-7.75},{"s":"350 °C/30 min","x":1.55,"y":-7.74},{"s":"350 °C/30 min","x":1.60,"y":-7.74},{"s":"350 °C/30 min","x":1.65,"y":-7.73},{"s":"350 °C/30 min","x":1.70,"y":-7.73},{"s":"350 °C/30 min","x":1.75,"y":-7.72},{"s":"350 °C/30 min","x":1.80,"y":-7.72},{"s":"350 °C/30 min","x":1.85,"y":-7.71},{"s":"350 °C/30 min","x":1.90,"y":-7.71},{"s":"350 °C/30 min","x":1.95,"y":-7.70},{"s":"350 °C/30 min","x":2.00,"y":-7.70},{"s":"350 °C/30 min","x":2.07,"y":-7.69},
{"s":"400 °C/30 min","x":-2.13,"y":1.48},{"s":"400 °C/30 min","x":-2.11,"y":1.48},{"s":"400 °C/30 min","x":-2.09,"y":1.48},{"s":"400 °C/30 min","x":-2.07,"y":1.48},{"s":"400 °C/30 min","x":-2.05,"y":1.48},{"s":"400 °C/30 min","x":-2.03,"y":1.48},{"s":"400 °C/30 min","x":-2.01,"y":1.48},{"s":"400 °C/30 min","x":-1.99,"y":1.48},{"s":"400 °C/30 min","x":-1.97,"y":1.48},{"s":"400 °C/30 min","x":-1.965,"y":-2.30},{"s":"400 °C/30 min","x":-1.955,"y":-2.65},{"s":"400 °C/30 min","x":-1.95,"y":-2.75},{"s":"400 °C/30 min","x":-1.94,"y":-3.50},{"s":"400 °C/30 min","x":-1.92,"y":-3.55},{"s":"400 °C/30 min","x":-1.90,"y":-3.60},{"s":"400 °C/30 min","x":-1.88,"y":-3.80},{"s":"400 °C/30 min","x":-1.87,"y":-3.87},{"s":"400 °C/30 min","x":-1.86,"y":-4.72},{"s":"400 °C/30 min","x":-1.85,"y":-4.78},{"s":"400 °C/30 min","x":-1.80,"y":-4.83},{"s":"400 °C/30 min","x":-1.75,"y":-4.89},{"s":"400 °C/30 min","x":-1.70,"y":-4.95},{"s":"400 °C/30 min","x":-1.65,"y":-5.00},{"s":"400 °C/30 min","x":-1.60,"y":-5.06},{"s":"400 °C/30 min","x":-1.55,"y":-5.12},{"s":"400 °C/30 min","x":-1.50,"y":-5.17},{"s":"400 °C/30 min","x":-1.45,"y":-5.22},{"s":"400 °C/30 min","x":-1.40,"y":-5.27},{"s":"400 °C/30 min","x":-1.35,"y":-5.33},{"s":"400 °C/30 min","x":-1.30,"y":-5.39},{"s":"400 °C/30 min","x":-1.25,"y":-5.45},{"s":"400 °C/30 min","x":-1.20,"y":-5.52},{"s":"400 °C/30 min","x":-1.15,"y":-5.59},{"s":"400 °C/30 min","x":-1.10,"y":-5.66},{"s":"400 °C/30 min","x":-1.05,"y":-5.73},{"s":"400 °C/30 min","x":-1.00,"y":-5.78},{"s":"400 °C/30 min","x":-0.95,"y":-5.83},{"s":"400 °C/30 min","x":-0.90,"y":-5.90},{"s":"400 °C/30 min","x":-0.85,"y":-5.98},{"s":"400 °C/30 min","x":-0.80,"y":-6.05},{"s":"400 °C/30 min","x":-0.75,"y":-6.13},{"s":"400 °C/30 min","x":-0.70,"y":-6.20},{"s":"400 °C/30 min","x":-0.65,"y":-6.27},{"s":"400 °C/30 min","x":-0.60,"y":-6.34},{"s":"400 °C/30 min","x":-0.55,"y":-6.42},{"s":"400 °C/30 min","x":-0.50,"y":-6.52},{"s":"400 °C/30 min","x":-0.45,"y":-6.61},{"s":"400 °C/30 min","x":-0.40,"y":-6.70},{"s":"400 °C/30 min","x":-0.35,"y":-6.80},{"s":"400 °C/30 min","x":-0.30,"y":-6.92},{"s":"400 °C/30 min","x":-0.25,"y":-7.03},{"s":"400 °C/30 min","x":-0.20,"y":-7.13},{"s":"400 °C/30 min","x":-0.15,"y":-7.22},{"s":"400 °C/30 min","x":-0.10,"y":-7.30},{"s":"400 °C/30 min","x":-0.05,"y":-7.36},{"s":"400 °C/30 min","x":-0.02,"y":-7.38},{"s":"400 °C/30 min","x":0.00,"y":-7.45},{"s":"400 °C/30 min","x":0.02,"y":-7.50},{"s":"400 °C/30 min","x":0.05,"y":-7.25},{"s":"400 °C/30 min","x":0.10,"y":-7.10},{"s":"400 °C/30 min","x":0.15,"y":-6.98},{"s":"400 °C/30 min","x":0.20,"y":-6.87},{"s":"400 °C/30 min","x":0.25,"y":-6.78},{"s":"400 °C/30 min","x":0.30,"y":-6.70},{"s":"400 °C/30 min","x":0.35,"y":-6.62},{"s":"400 °C/30 min","x":0.40,"y":-6.54},{"s":"400 °C/30 min","x":0.45,"y":-6.47},{"s":"400 °C/30 min","x":0.50,"y":-6.40},{"s":"400 °C/30 min","x":0.55,"y":-6.34},{"s":"400 °C/30 min","x":0.60,"y":-6.28},{"s":"400 °C/30 min","x":0.65,"y":-6.22},{"s":"400 °C/30 min","x":0.70,"y":-6.17},{"s":"400 °C/30 min","x":0.75,"y":-6.12},{"s":"400 °C/30 min","x":0.80,"y":-6.08},{"s":"400 °C/30 min","x":0.85,"y":-6.03},{"s":"400 °C/30 min","x":0.90,"y":-5.98},{"s":"400 °C/30 min","x":0.95,"y":-5.93},{"s":"400 °C/30 min","x":1.00,"y":-5.88},{"s":"400 °C/30 min","x":1.05,"y":-5.83},{"s":"400 °C/30 min","x":1.10,"y":-5.78},{"s":"400 °C/30 min","x":1.15,"y":-5.74},{"s":"400 °C/30 min","x":1.20,"y":-5.70},{"s":"400 °C/30 min","x":1.25,"y":-5.66},{"s":"400 °C/30 min","x":1.30,"y":-5.62},{"s":"400 °C/30 min","x":1.35,"y":-5.58},{"s":"400 °C/30 min","x":1.40,"y":-5.54},{"s":"400 °C/30 min","x":1.45,"y":-5.50},{"s":"400 °C/30 min","x":1.50,"y":-5.46},{"s":"400 °C/30 min","x":1.55,"y":-5.42},{"s":"400 °C/30 min","x":1.60,"y":-5.38},{"s":"400 °C/30 min","x":1.65,"y":-5.34},{"s":"400 °C/30 min","x":1.70,"y":-5.30},{"s":"400 °C/30 min","x":1.75,"y":-5.26},{"s":"400 °C/30 min","x":1.80,"y":-5.22},{"s":"400 °C/30 min","x":1.85,"y":-5.18},{"s":"400 °C/30 min","x":1.90,"y":-5.14},{"s":"400 °C/30 min","x":1.95,"y":-5.10},{"s":"400 °C/30 min","x":2.00,"y":-5.07},{"s":"400 °C/30 min","x":2.07,"y":-5.03}
]
},
"hconcat": [
{
  "width": 396, "height": 293,
  "resolve": {"scale": {"color": "independent", "shape": "independent"}, "legend": {"color": "independent", "shape": "independent"}},
  "encoding": {
    "x": {"field": "x", "type": "quantitative", "scale": {"domain": [-2.575, 2.425], "nice": false, "zero": false},
      "axis": {"values": [-2, -1, 0, 1, 2], "labelExpr": "datum.value < 0 ? '-' + (-datum.value) : '' + datum.value", "title": "Electrical Field (MV/cm)", "labelFontSize": 17, "tickSize": 5, "labelPadding": 3, "titleX": 198, "titleY": 48, "titleBaseline": "alphabetic", "titleAlign": "center"}},
    "y": {"field": "y", "type": "quantitative", "scale": {"domain": [-10, 2], "nice": false, "zero": false},
      "axis": {"values": [-10, -9, -8, -7, -6, -5, -4, -3, -2, -1, 0, 1, 2], "labelExpr": "datum.value==2?'10²':datum.value==0?'10⁰':datum.value==-2?'10⁻²':datum.value==-4?'10⁻⁴':datum.value==-6?'10⁻⁶':datum.value==-8?'10⁻⁸':datum.value==-10?'10⁻¹⁰':''", "title": "current density (A/cm²)", "labelFontSize": 16, "tickSize": 4, "labelPadding": 2, "titleX": -43, "titleY": 146.5, "titleAngle": 270, "titleBaseline": "alphabetic", "titleAlign": "center"}}
  },
  "layer": [
    {"data": {"name": "a"}, "mark": {"type": "line", "strokeWidth": 1, "clip": true},
     "encoding": {"color": {"field": "s", "type": "nominal", "scale": {"domain": ["W/O PMA", "350 °C/1 min", "350 °C/10 min", "350 °C/30 min", "350 °C/50 min"], "range": ["#3a3a3a", "#ff3333", "#3333ff", "#33ee33", "#ff33ff"]}, "legend": null}}},
    {"data": {"name": "a"}, "mark": {"type": "point", "filled": false, "size": 40, "strokeWidth": 1, "clip": true},
     "encoding": {
       "color": {"field": "s", "type": "nominal", "scale": {"domain": ["W/O PMA", "350 °C/1 min", "350 °C/10 min", "350 °C/30 min", "350 °C/50 min"], "range": ["#3a3a3a", "#ff3333", "#3333ff", "#33ee33", "#ff33ff"]}, "legend": null},
       "shape": {"field": "s", "type": "nominal", "scale": {"domain": ["W/O PMA", "350 °C/1 min", "350 °C/10 min", "350 °C/30 min", "350 °C/50 min"], "range": ["square", "circle", "triangle-up", "triangle-down", "diamond"]}, "legend": null}
     }},
    {"data": {"name": "a"}, "transform": [{"filter": "false"}],
     "mark": {"type": "point", "filled": false, "strokeWidth": 1.2},
     "encoding": {
       "color": {"field": "s", "type": "nominal", "scale": {"domain": ["W/O PMA", "350 °C/1 min", "350 °C/10 min", "350 °C/30 min", "350 °C/50 min"], "range": ["#3a3a3a", "#ff3333", "#3333ff", "#33ee33", "#ff33ff"]},
         "legend": {"orient": "none", "legendX": 138, "legendY": 11, "title": null, "padding": 0, "labelFont": "Liberation Sans", "labelFontSize": 17, "labelFontWeight": "bold", "labelColor": "black", "symbolSize": 400, "symbolStrokeWidth": 1.2, "symbolFillColor": "white", "rowPadding": 7.5, "labelOffset": 12}},
       "shape": {"field": "s", "type": "nominal", "scale": {"domain": ["W/O PMA", "350 °C/1 min", "350 °C/10 min", "350 °C/30 min", "350 °C/50 min"],
         "range": ["M-1.55,0H-0.35M0.35,0H1.55M-0.35,-0.35H0.35V0.35H-0.35Z", "M-1.55,0H-0.38M0.38,0H1.55M0.38,0A0.38,0.38,0,1,1,-0.38,0A0.38,0.38,0,1,1,0.38,0Z", "M-1.55,0H-0.26M0.26,0H1.55M0,-0.42L0.42,0.3L-0.42,0.3Z", "M-1.55,0H-0.26M0.26,0H1.55M0,0.42L0.42,-0.3L-0.42,-0.3Z", "M-1.55,0H-0.4M0.4,0H1.55M0,-0.42L0.42,0L0,0.42L-0.42,0Z"]},
         "legend": {"orient": "none", "legendX": 138, "legendY": 11, "title": null, "padding": 0, "labelFont": "Liberation Sans", "labelFontSize": 17, "labelFontWeight": "bold", "labelColor": "black", "symbolSize": 400, "symbolStrokeWidth": 1.2, "symbolFillColor": "white", "rowPadding": 7.5, "labelOffset": 12}}
     }},
    {"data": {"values": [{"x": -1.44, "y": -9.63, "t": "Top Injection"}, {"x": 1.44, "y": -9.67, "t": "Bottom Injection"}]},
     "mark": {"type": "text", "font": "Liberation Sans", "fontSize": 18, "fontWeight": "bold", "color": "black", "baseline": "alphabetic", "align": "center"},
     "encoding": {"text": {"field": "t"}}},
    {"data": {"values": [{"x": -3.38, "y": 1.96, "t": "a"}]},
     "mark": {"type": "text", "font": "Liberation Serif", "fontSize": 24, "color": "black", "baseline": "alphabetic", "align": "left", "clip": false},
     "encoding": {"text": {"field": "t"}}}
  ]
},
{
  "width": 396, "height": 293,
  "resolve": {"scale": {"color": "independent", "shape": "independent"}, "legend": {"color": "independent", "shape": "independent"}},
  "encoding": {
    "x": {"field": "x", "type": "quantitative", "scale": {"domain": [-2.575, 2.425], "nice": false, "zero": false},
      "axis": {"values": [-2, -1, 0, 1, 2], "labelExpr": "datum.value < 0 ? '-' + (-datum.value) : '' + datum.value", "title": "Electrical Field (MV/cm)", "labelFontSize": 17, "tickSize": 5, "labelPadding": 3, "titleX": 198, "titleY": 48, "titleBaseline": "alphabetic", "titleAlign": "center"}},
    "y": {"field": "y", "type": "quantitative", "scale": {"domain": [-10, 2], "nice": false, "zero": false},
      "axis": {"values": [-10, -9, -8, -7, -6, -5, -4, -3, -2, -1, 0, 1, 2], "labelExpr": "datum.value==2?'10²':datum.value==0?'10⁰':datum.value==-2?'10⁻²':datum.value==-4?'10⁻⁴':datum.value==-6?'10⁻⁶':datum.value==-8?'10⁻⁸':datum.value==-10?'10⁻¹⁰':''", "title": "current density (A/cm²)", "labelFontSize": 16, "tickSize": 4, "labelPadding": 2, "titleX": -43, "titleY": 146.5, "titleAngle": 270, "titleBaseline": "alphabetic", "titleAlign": "center"}}
  },
  "layer": [
    {"data": {"name": "b"}, "mark": {"type": "line", "strokeWidth": 1, "clip": true},
     "encoding": {"color": {"field": "s", "type": "nominal", "scale": {"domain": ["W/O PMA", "300 °C/30 min", "350 °C/30 min", "400 °C/30 min"], "range": ["#3a3a3a", "#ff3333", "#3333ff", "#ff33ff"]}, "legend": null}}},
    {"data": {"name": "b"}, "mark": {"type": "point", "filled": false, "size": 40, "strokeWidth": 1, "clip": true},
     "encoding": {
       "color": {"field": "s", "type": "nominal", "scale": {"domain": ["W/O PMA", "300 °C/30 min", "350 °C/30 min", "400 °C/30 min"], "range": ["#3a3a3a", "#ff3333", "#3333ff", "#ff33ff"]}, "legend": null},
       "shape": {"field": "s", "type": "nominal", "scale": {"domain": ["W/O PMA", "300 °C/30 min", "350 °C/30 min", "400 °C/30 min"], "range": ["square", "circle", "triangle-up", "triangle-down"]}, "legend": null}
     }},
    {"data": {"name": "b"}, "transform": [{"filter": "false"}],
     "mark": {"type": "point", "filled": false, "strokeWidth": 1.2},
     "encoding": {
       "color": {"field": "s", "type": "nominal", "scale": {"domain": ["W/O PMA", "300 °C/30 min", "350 °C/30 min", "400 °C/30 min"], "range": ["#3a3a3a", "#ff3333", "#3333ff", "#ff33ff"]},
         "legend": {"orient": "none", "legendX": 127, "legendY": 9, "title": null, "padding": 0, "labelFont": "Liberation Sans", "labelFontSize": 17, "labelFontWeight": "bold", "labelColor": "black", "symbolSize": 400, "symbolStrokeWidth": 1.2, "symbolFillColor": "white", "rowPadding": 7.5, "labelOffset": 12}},
       "shape": {"field": "s", "type": "nominal", "scale": {"domain": ["W/O PMA", "300 °C/30 min", "350 °C/30 min", "400 °C/30 min"],
         "range": ["M-1.55,0H-0.35M0.35,0H1.55M-0.35,-0.35H0.35V0.35H-0.35Z", "M-1.55,0H-0.38M0.38,0H1.55M0.38,0A0.38,0.38,0,1,1,-0.38,0A0.38,0.38,0,1,1,0.38,0Z", "M-1.55,0H-0.26M0.26,0H1.55M0,-0.42L0.42,0.3L-0.42,0.3Z", "M-1.55,0H-0.26M0.26,0H1.55M0,0.42L0.42,-0.3L-0.42,-0.3Z"]},
         "legend": {"orient": "none", "legendX": 127, "legendY": 9, "title": null, "padding": 0, "labelFont": "Liberation Sans", "labelFontSize": 17, "labelFontWeight": "bold", "labelColor": "black", "symbolSize": 400, "symbolStrokeWidth": 1.2, "symbolFillColor": "white", "rowPadding": 7.5, "labelOffset": 12}}
     }},
    {"data": {"values": [{"x": -1.35, "y": -9.65, "t": "Top Injection"}, {"x": 1.41, "y": -9.65, "t": "Bottom Injection"}]},
     "mark": {"type": "text", "font": "Liberation Sans", "fontSize": 18, "fontWeight": "bold", "color": "black", "baseline": "alphabetic", "align": "center"},
     "encoding": {"text": {"field": "t"}}},
    {"data": {"values": [{"x": -3.244, "y": 1.9, "t": "b"}]},
     "mark": {"type": "text", "font": "Liberation Serif", "fontSize": 24, "color": "black", "baseline": "alphabetic", "align": "left", "clip": false},
     "encoding": {"text": {"field": "t"}}}
  ]
}
]
}
